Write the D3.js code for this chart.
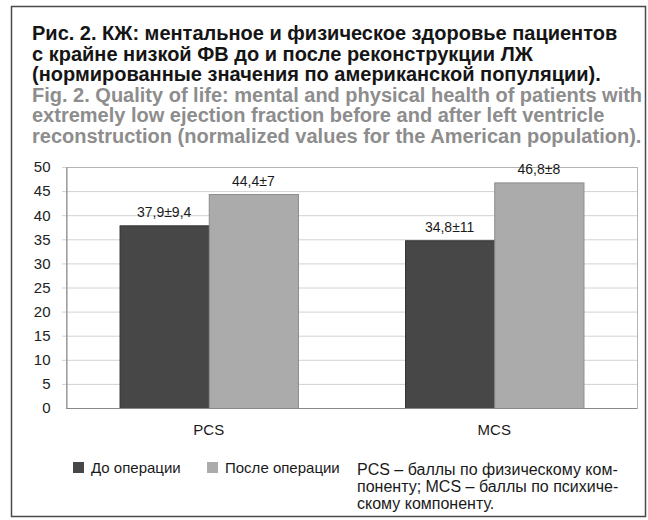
<!DOCTYPE html>
<html>
<head>
<meta charset="utf-8">
<script src="https://cdn.jsdelivr.net/npm/d3@7/dist/d3.min.js"></script>
<style>
  body { margin: 0; background: #fff; }
  svg text { font-family: "Liberation Sans", Arial, sans-serif; }
</style>
</head>
<body>
<svg id="chart" width="648" height="520"></svg>
<script>
// data
var categories = ["PCS", "MCS"];
var seriesNames = ["До операции", "После операции"];
var before = [37.9, 34.8];
var after = [44.4, 46.8];
var beforeLabels = ["37,9±9,4", "34,8±11"];
var afterLabels = ["44,4±7", "46,8±8"];
var yTicks = [0, 5, 10, 15, 20, 25, 30, 35, 40, 45, 50];

var titleRu = [
    "Рис. 2. КЖ: ментальное и физическое здоровье пациентов",
    "с крайне низкой ФВ до и после реконструкции ЛЖ",
    "(нормированные значения по американской популяции)."
];
var titleEn = [
    "Fig. 2. Quality of life: mental and physical health of patients with",
    "extremely low ejection fraction before and after left ventricle",
    "reconstruction (normalized values for the American population)."
];
var footnote = [
    "PCS – баллы по физическому ком-",
    "поненту; MCS – баллы по психиче-",
    "скому компоненту."
];

var colors = ["#474747", "#ababab"];
var strokes = ["#333333", "#8c8c8c"];

var svg = d3.select("#chart");

// outer frame
svg.append("rect")
    .attr("x", 11.5).attr("y", 6.5)
    .attr("width", 634).attr("height", 510)
    .attr("fill", "none")
    .attr("stroke", "#4a4a4a")
    .attr("stroke-width", 1.5);

// caption
titleRu.forEach(function(t, i) {
    svg.append("text")
        .attr("x", 32).attr("y", 40 + i * 20.6)
        .attr("font-size", 20).attr("font-weight", "bold")
        .attr("fill", "#151515")
        .text(t);
});
titleEn.forEach(function(t, i) {
    svg.append("text")
        .attr("x", 32).attr("y", 40 + (i + 3) * 20.6)
        .attr("font-size", 20).attr("font-weight", "bold")
        .attr("fill", "#8d8d8d")
        .text(t);
});

// plot area
var plotLeft = 66, plotRight = 637, plotTop = 167, plotBottom = 408;

var y = d3.scaleLinear().domain([0, 50]).range([plotBottom, plotTop]);
var x0 = d3.scaleBand().domain(categories).range([plotLeft, plotRight]);
var x1 = d3.scaleBand().domain([0, 1]).range([0, x0.bandwidth()]).paddingOuter(0.6);

// grid
svg.append("g")
    .selectAll("line")
    .data(yTicks.filter(function(d) { return d > 0; }))
    .join("line")
    .attr("x1", plotLeft - 4).attr("x2", plotRight)
    .attr("y1", function(d) { return y(d) + 0.5; })
    .attr("y2", function(d) { return y(d) + 0.5; })
    .attr("stroke", "#d2d2d2");

// plot frame
svg.append("rect")
    .attr("x", plotLeft + 0.5).attr("y", plotTop + 0.5)
    .attr("width", plotRight - plotLeft).attr("height", plotBottom - plotTop)
    .attr("fill", "none")
    .attr("stroke", "#b4b4b4");

// y axis
var yAxis = svg.append("g")
    .attr("transform", "translate(" + (plotLeft + 0.5) + ",0)")
    .call(d3.axisLeft(y).tickValues(yTicks).tickSize(0).tickPadding(16));
yAxis.select(".domain").attr("stroke", "#8a8a8a");
yAxis.selectAll("text")
    .attr("font-size", 15)
    .attr("fill", "#222")
    .style("font-family", "'Liberation Sans', Arial, sans-serif");

// bars
var groups = svg.append("g")
    .selectAll("g")
    .data(categories)
    .join("g")
    .attr("transform", function(d) { return "translate(" + x0(d) + ",0)"; });

groups.each(function(cat, ci) {
    var g = d3.select(this);
    var vals = [before[ci], after[ci]];
    var labs = [beforeLabels[ci], afterLabels[ci]];
    vals.forEach(function(v, si) {
        g.append("rect")
            .attr("x", x1(si) + 0.5)
            .attr("y", y(v) + 0.5)
            .attr("width", x1.bandwidth())
            .attr("height", y(0) - y(v))
            .attr("fill", colors[si])
            .attr("stroke", strokes[si]);
        g.append("text")
            .attr("x", x1(si) + x1.bandwidth() / 2)
            .attr("y", y(v) - 8)
            .attr("text-anchor", "middle")
            .attr("font-size", 14)
            .attr("fill", "#1a1a1a")
            .text(labs[si]);
    });
});

// x axis line
svg.append("line")
    .attr("x1", plotLeft).attr("x2", plotRight)
    .attr("y1", plotBottom + 0.5).attr("y2", plotBottom + 0.5)
    .attr("stroke", "#8a8a8a");

// category labels
svg.append("g")
    .selectAll("text")
    .data(categories)
    .join("text")
    .attr("x", function(d) { return x0(d) + x0.bandwidth() / 2; })
    .attr("y", 435)
    .attr("text-anchor", "middle")
    .attr("font-size", 15)
    .attr("fill", "#1a1a1a")
    .text(function(d) { return d; });

// legend
var legendX = [73, 207];
seriesNames.forEach(function(name, i) {
    svg.append("rect")
        .attr("x", legendX[i]).attr("y", 462)
        .attr("width", 11).attr("height", 11)
        .attr("fill", colors[i]);
    svg.append("text")
        .attr("x", legendX[i] + 18).attr("y", 473)
        .attr("font-size", 15)
        .attr("fill", "#1a1a1a")
        .text(name);
});

// footnote
footnote.forEach(function(t, i) {
    svg.append("text")
        .attr("x", 357).attr("y", 475 + i * 17)
        .attr("font-size", 16)
        .attr("fill", "#1a1a1a")
        .text(t);
});
</script>
</body>
</html>
